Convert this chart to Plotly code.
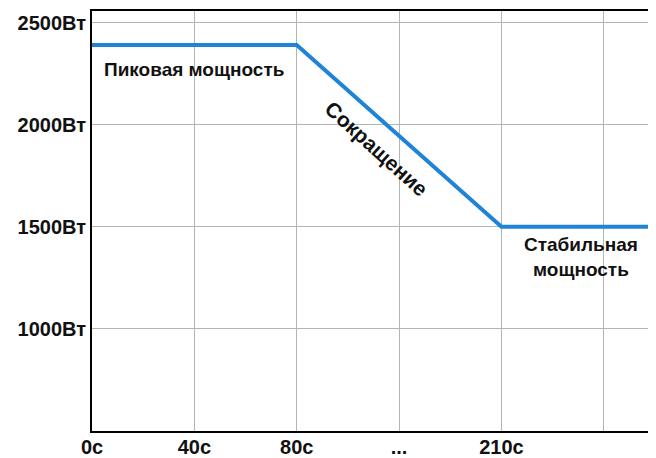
import plotly.graph_objects as go

# Data
tick_positions = [0, 1, 2, 3, 4, 5]
tick_labels = ["0с", "40с", "80с", "...", "210с", ""]
line_x = [0, 2, 4, 5.6]
line_y = [2390, 2390, 1500, 1500]
y_ticks = [1000, 1500, 2000, 2500]
y_tick_labels = ["1000Вт", "1500Вт", "2000Вт", "2500Вт"]

FONT = "Liberation Sans, Arial, sans-serif"

fig = go.Figure()
fig.add_trace(go.Scatter(
    x=line_x, y=line_y, mode="lines",
    line=dict(color="#1f84d8", width=4),
    showlegend=False, hoverinfo="skip", cliponaxis=False,
))

fig.add_annotation(x=0.1, y=2270, xref="x", yref="y", text="Пиковая мощность",
                   showarrow=False, xanchor="left", yanchor="middle",
                   font=dict(family=FONT, size=19, color="#111", weight="bold"))
fig.add_annotation(x=2.78, y=1885, xref="x", yref="y", text="Сокращение",
                   showarrow=False, textangle=42, xanchor="center", yanchor="middle",
                   font=dict(family=FONT, size=21, color="#111", weight="bold"))
fig.add_annotation(x=4.78, y=1352, xref="x", yref="y", text="Стабильная<br>мощность",
                   showarrow=False, xanchor="center", yanchor="middle", align="center",
                   font=dict(family=FONT, size=19, color="#111", weight="bold"))

fig.update_layout(
    width=648, height=450,
    margin=dict(l=84, r=0, t=3, b=27, autoexpand=False),
    plot_bgcolor="white", paper_bgcolor="white",
    xaxis=dict(range=[0, 5.51], tickmode="array", tickvals=tick_positions,
               ticktext=tick_labels, showgrid=True, gridcolor="#b4b4b4", gridwidth=1,
               showline=True, linecolor="black", linewidth=2, mirror=True,
               ticks="", zeroline=False, automargin=False, ticklabelstandoff=-3,
               tickfont=dict(family=FONT, size=20, color="#111", weight="bold")),
    yaxis=dict(range=[500, 2557], tickmode="array", tickvals=y_ticks,
               ticktext=y_tick_labels, showgrid=True, gridcolor="#b4b4b4", gridwidth=1,
               showline=True, linecolor="black", linewidth=2, zeroline=False,
               ticks="", automargin=False,
               tickfont=dict(family=FONT, size=20, color="#111", weight="bold")),
)

fig.write_html("out.html")
